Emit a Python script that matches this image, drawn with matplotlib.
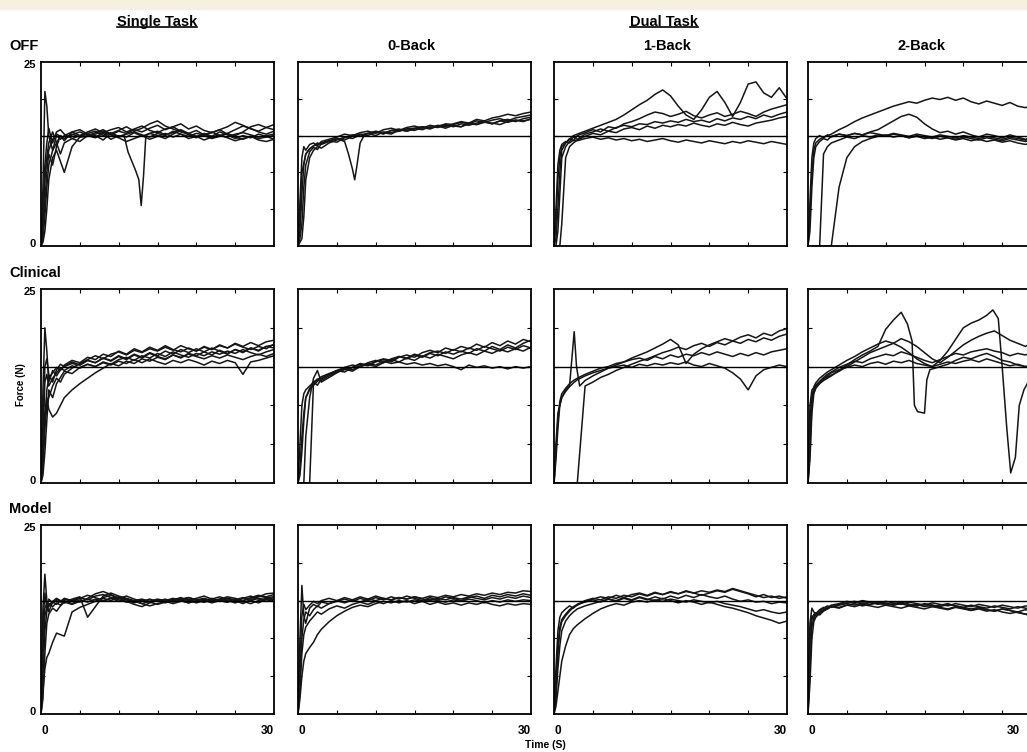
import matplotlib.pyplot as plt
from matplotlib.lines import Line2D
from matplotlib.patches import Rectangle

plt.rcParams['font.family'] = ['Liberation Sans', 'DejaVu Sans']

# shared time base (s)
t = [0, 0.25, 0.5, 0.75, 1, 1.5, 2, 2.5, 3, 4, 5, 6, 7, 8, 9, 10, 11, 12, 13, 14,
     15, 16, 17, 18, 19, 20, 21, 22, 23, 24, 25, 26, 27, 28, 29, 30]

# ---- OFF ----
off_single = [
    [0, 8, 21, 19, 15, 13, 15, 14.5, 15, 15.5, 15, 15.2, 14.8, 15.4, 15.1, 15.6, 15.3, 15.8, 15.5, 16.0, 16.4, 15.8, 16.2, 16.6, 15.9, 16.3, 15.7, 15.4, 15.8, 15.2, 15.0, 15.5, 16.2, 16.5, 16.1, 15.8],
    [0, 3, 9, 12, 14, 15.5, 14, 15, 14.6, 15.2, 14.8, 15.3, 15.6, 15.0, 15.4, 14.9, 15.2, 15.5, 15.1, 14.8, 15.3, 15.0, 15.6, 15.2, 14.9, 15.3, 15.1, 15.5, 15.0, 14.8, 15.2, 15.4, 15.1, 14.8, 15.0, 15.2],
    [0, 1, 4, 8, 11, 13, 14, 12.5, 14, 14.6, 14.2, 15.0, 14.7, 15.3, 14.5, 15.0, 14.8, 15.4, 14.9, 15.3, 15.0, 14.6, 15.2, 15.7, 15.1, 14.7, 15.3, 14.9, 15.5, 15.1, 14.6, 15.0, 14.7, 15.2, 14.9, 14.5],
    [0, 2, 6, 10, 12.5, 11, 13.5, 15, 14.3, 15.5, 15.8, 15.2, 15.0, 14.4, 15.3, 15.7, 16.2, 15.6, 16.0, 16.6, 17.0, 16.3, 15.9, 15.5, 15.2, 14.8, 15.0, 14.6, 14.9, 15.3, 15.8, 16.3, 16.0, 15.5, 15.2, 15.6],
    [0, 0.5, 2, 5, 9, 12, 13, 11.5, 10, 13.5, 14.8, 14.9, 15.2, 15.6, 15.1, 14.7, 14.2, 14.6, 15.0, 14.5, 14.9, 15.3, 14.8, 15.2, 14.6, 14.9, 14.4, 14.8, 15.1, 14.7, 14.3, 14.6, 14.9, 14.4, 14.2, 14.5],
    [0, 4, 11, 14, 16, 14, 15.5, 15.8, 15.2, 14.6, 15.0, 15.5, 15.9, 15.4, 15.8, 16.1, 15.5, 15.9, 16.3, 15.7, 15.4, 15.9, 16.2, 15.6, 15.3, 15.7, 15.1, 15.4, 15.8, 16.2, 16.8, 16.4, 15.9, 15.6, 16.1, 16.5],
]
off_single_dip_t = [0, 0.25, 0.5, 1, 1.5, 2, 3, 4, 5, 6, 7, 8, 9, 10, 10.7, 11.2, 11.7, 12.2, 12.6, 12.9,
                    13.2, 13.5, 14, 15, 16, 17, 18, 19, 20, 21, 22, 23, 24, 25, 26, 27, 28, 29, 30]
off_single_dip = [0, 5, 10, 13, 14.5, 15.2, 14.6, 15.1, 15.5, 15.0, 15.4, 15.8, 15.2, 14.8, 15.0, 12.8, 11.5, 10.2, 9.0, 5.5,
                  9.5, 15.0, 15.3, 15.6, 15.1, 15.4, 15.8, 15.3, 14.9, 15.2, 14.7, 15.0, 15.3, 14.8, 14.5, 14.9, 14.6, 14.8, 15.0]

off_0back = [
    [0, 6, 12, 13.5, 13, 13.8, 14, 13.6, 14.2, 14.5, 14.8, 15.2, 15.0, 15.4, 15.6, 15.3, 15.8, 16.0, 15.7, 16.1, 16.3, 16.0, 16.4, 16.2, 16.6, 16.5, 16.8, 16.6, 17.0, 16.8, 17.1, 17.3, 17.0, 17.4, 17.6, 17.8],
    [0, 2, 7, 11, 12.5, 13.2, 13.6, 14.0, 13.8, 14.2, 14.6, 14.4, 14.9, 15.2, 15.0, 15.5, 15.3, 15.7, 15.6, 15.9, 16.0, 15.8, 16.2, 16.1, 16.4, 16.3, 16.2, 16.6, 16.5, 16.8, 16.7, 16.5, 16.9, 17.1, 17.0, 17.2],
    [0, 1, 3, 8, 11, 12.8, 13.4, 13.1, 13.9, 14.3, 14.1, 14.7, 15.1, 14.9, 15.3, 15.6, 15.4, 15.2, 15.8, 15.6, 15.9, 16.2, 16.0, 16.4, 16.2, 16.6, 16.9, 16.7, 17.2, 17.0, 17.4, 17.6, 17.9, 17.7, 18.0, 18.2],
    [0, 0.5, 1, 4, 9, 12, 13.0, 13.5, 13.3, 14.0, 14.4, 14.8, 14.6, 15.1, 15.3, 15.0, 15.5, 15.4, 15.6, 15.9, 15.7, 16.1, 15.9, 16.3, 16.0, 16.4, 16.2, 16.7, 16.5, 16.9, 16.6, 17.0, 16.8, 17.1, 16.9, 17.3],
]
off_0back_dip_t = [0, 0.25, 0.5, 1, 1.5, 2, 3, 4, 5, 6, 6.5, 7, 7.3, 7.6, 8, 8.5, 9, 10, 11, 12,
                   13, 14, 15, 16, 17, 18, 19, 20, 21, 22, 23, 24, 25, 26, 27, 28, 29, 30]
off_0back_dip = [0, 4, 10, 12.5, 13.2, 13.6, 14.0, 14.3, 14.6, 14.2, 12.5, 10.5, 9.0, 11.0, 14.0, 15.0, 15.3, 15.5, 15.2, 15.7,
                 15.9, 15.6, 16.0, 16.2, 16.0, 16.3, 16.5, 16.2, 16.6, 16.4, 16.7, 16.9, 16.6, 17.0, 17.2, 16.9, 17.3, 17.5]

off_1back = [
    [0, 3, 9, 12, 13.5, 14, 14.5, 15, 15.2, 15.6, 16.0, 16.4, 16.8, 17.2, 17.8, 18.5, 19.2, 19.8, 20.6, 21.2, 20.4, 19.0, 17.8, 17.2, 18.5, 20.2, 21.0, 19.5, 17.6, 19.5, 22.0, 22.3, 20.8, 20.2, 21.5, 20.0],
    [0, 1, 5, 10, 13, 14, 14.6, 14.3, 15.0, 15.4, 15.8, 15.5, 16.2, 16.0, 16.6, 16.9, 17.3, 17.8, 18.2, 18.0, 17.6, 17.9, 18.3, 17.7, 17.4, 17.8, 18.1, 17.6, 17.9, 18.3, 18.0, 17.6, 18.2, 18.6, 18.9, 19.2],
    [0, 0, 2, 7, 12, 13.5, 14.2, 14.8, 14.5, 15.2, 15.5, 15.9, 15.6, 16.1, 16.4, 16.2, 16.6, 16.5, 16.9, 16.7, 17.0, 16.8, 17.2, 16.9, 17.1, 16.8, 17.3, 17.0, 17.4, 17.2, 17.6, 17.3, 17.8, 17.5, 17.9, 18.2],
    [0, 0, 0, 0, 3, 12, 13.5, 14.0, 14.4, 14.9, 15.3, 15.1, 15.6, 15.4, 15.9, 16.1, 15.8, 16.3, 16.0, 16.4, 16.2, 16.5, 16.3, 16.7, 16.4, 16.2, 16.6, 16.4, 16.8, 16.5, 16.3, 16.7, 16.9, 17.1, 17.4, 17.6],
    [0, 5, 11, 13, 13.8, 14.2, 14.0, 14.4, 14.3, 14.6, 14.8, 14.5, 14.7, 14.4, 14.6, 14.3, 14.5, 14.2, 14.4, 14.6, 14.3, 14.1, 14.4, 14.2, 14.0, 14.3, 14.1, 13.9, 14.2, 14.0, 14.3, 14.1, 13.9, 14.2, 14.0, 13.8],
]

off_2back = [
    [0, 4, 10, 13, 14, 14.5, 14.8, 15.0, 15.2, 15.8, 16.3, 16.9, 17.4, 17.8, 18.2, 18.6, 19.0, 19.3, 19.6, 19.4, 19.8, 20.1, 19.9, 20.2, 19.8, 20.1, 19.6, 19.3, 19.7, 19.4, 19.1, 19.5, 19.0, 18.8, 19.2, 18.7],
    [0, 2, 8, 12, 13.5, 14.2, 14.6, 14.4, 14.9, 15.2, 15.0, 15.3, 15.1, 15.5, 15.8, 16.4, 17.0, 17.6, 17.9, 17.5, 16.6, 15.9, 15.4, 15.6, 15.2, 15.5, 15.1, 14.8, 15.2, 15.0, 14.7, 15.1, 14.8, 14.5, 14.9, 14.6],
    [0, 0, 0, 0, 0, 0, 12.5, 13.5, 14.0, 14.4, 14.8, 14.6, 15.0, 14.8, 15.1, 14.9, 15.2, 15.0, 14.7, 15.0, 14.8, 14.6, 14.9, 14.7, 14.5, 14.8, 14.6, 14.4, 14.7, 14.5, 14.3, 14.6, 14.4, 14.2, 14.5, 14.3],
    [0, 0, 0, 0, 0, 0, 0, 0, 0, 8, 12, 13.5, 14.2, 14.6, 14.9, 15.1, 14.8, 15.0, 14.7, 14.9, 14.6, 14.8, 14.5, 14.7, 14.4, 14.6, 14.3, 14.5, 14.2, 14.4, 14.1, 14.3, 14.0, 13.8, 14.1, 13.9],
    [0, 6, 12, 14, 14.6, 15.0, 14.7, 15.1, 14.8, 15.2, 15.0, 15.3, 15.1, 15.4, 15.2, 15.0, 15.3, 15.1, 14.9, 15.2, 15.0, 14.8, 15.1, 14.9, 14.7, 15.0, 14.8, 14.6, 14.9, 14.7, 14.5, 14.8, 14.6, 14.4, 14.2, 14.0],
]

# ---- Clinical ----
clin_single = [
    [0, 12, 20, 17, 13, 14.5, 13.8, 14.6, 15.0, 15.4, 15.2, 15.8, 15.5, 16.1, 15.8, 16.4, 16.0, 16.6, 16.2, 16.8, 16.4, 17.0, 16.6, 17.2, 16.8, 17.3, 16.9, 17.4, 17.0, 16.6, 17.2, 16.8, 17.4, 17.0, 17.6, 17.8],
    [0, 4, 9, 11, 9.5, 8.5, 9, 10, 11, 12, 12.8, 13.5, 14.2, 14.8, 15.4, 15.1, 15.7, 15.4, 16.0, 15.7, 16.2, 15.9, 16.5, 16.1, 16.7, 16.4, 16.9, 16.5, 17.1, 16.7, 17.2, 16.9, 17.4, 17.1, 17.6, 17.4],
    [0, 6, 13, 14, 12.5, 13.5, 14.2, 14.8, 14.5, 15.1, 14.8, 15.3, 15.0, 15.5, 15.2, 15.7, 15.4, 15.9, 15.5, 16.0, 15.6, 15.3, 15.8, 15.5, 15.9, 15.6, 15.2, 15.7, 15.4, 15.8, 15.5, 14.0, 15.6, 15.8, 16.1, 16.4],
    [0, 2, 7, 10, 11, 12.5, 13.5, 13.0, 14.0, 14.8, 15.4, 15.9, 16.4, 16.0, 16.6, 16.9, 16.5, 17.1, 16.8, 17.3, 17.0, 17.5, 17.1, 17.7, 17.3, 17.0, 17.5, 17.2, 17.7, 17.4, 17.9, 17.5, 17.2, 17.6, 17.3, 17.9],
    [0, 1, 4, 8, 12, 11, 12.8, 13.6, 14.4, 14.1, 14.9, 15.3, 15.0, 15.6, 15.3, 15.9, 16.2, 15.8, 16.4, 16.1, 16.7, 16.3, 16.9, 16.5, 16.2, 16.7, 16.4, 16.9, 16.6, 17.0, 16.7, 17.2, 16.8, 16.5, 16.9, 17.2],
    [0, 8, 15, 16, 14, 13, 14.6, 15.3, 15.0, 15.6, 15.2, 15.8, 15.5, 16.1, 15.7, 16.3, 15.9, 16.5, 16.1, 16.7, 16.3, 16.0, 16.5, 16.2, 16.6, 16.3, 16.0, 16.4, 16.1, 16.5, 16.2, 15.9, 16.3, 16.6, 16.3, 16.7],
    [0, 3, 8, 12, 13.5, 14.2, 14.9, 14.5, 15.2, 15.8, 15.5, 16.2, 15.9, 16.6, 16.3, 17.0, 16.6, 17.3, 16.9, 17.5, 17.1, 17.7, 17.2, 16.9, 17.4, 17.0, 17.6, 17.2, 17.8, 17.4, 18.0, 17.6, 18.1, 17.7, 18.2, 18.4],
]

clin_0back = [
    [0, 5, 10, 11.5, 12, 12.5, 13.0, 13.4, 13.2, 13.8, 14.3, 14.6, 14.9, 15.3, 15.1, 15.6, 15.9, 15.6, 16.2, 16.5, 16.2, 16.8, 17.1, 16.8, 17.4, 17.1, 17.6, 17.3, 17.9, 17.5, 18.1, 17.7, 18.3, 17.9, 18.5, 18.2],
    [0, 2, 6, 9, 11, 12.2, 12.8, 13.3, 13.7, 14.1, 14.5, 14.9, 15.2, 15.0, 15.5, 15.8, 15.5, 16.0, 16.3, 16.0, 16.5, 16.2, 16.7, 16.4, 16.9, 16.6, 17.0, 16.7, 17.3, 17.0, 17.6, 17.2, 17.8, 17.4, 18.0, 18.4],
    [0, 1, 4, 8, 11, 12.0, 12.6, 13.1, 13.5, 14.0, 14.4, 14.8, 14.6, 15.1, 15.4, 15.2, 15.7, 15.4, 15.6, 15.3, 15.5, 15.2, 15.4, 15.1, 15.3, 15.0, 14.6, 15.2, 14.9, 15.1, 14.8, 15.0, 14.7, 15.0, 14.8, 15.0],
    [0, 0, 0, 0, 0, 0, 13.0, 12.6, 13.4, 14.0, 14.5, 14.3, 14.9, 15.4, 15.2, 15.7, 16.0, 15.8, 16.3, 16.1, 16.6, 16.3, 16.8, 17.0, 16.7, 17.2, 16.9, 17.4, 17.1, 17.6, 17.3, 17.0, 17.5, 17.2, 17.7, 17.4],
    [0, 0, 0, 0, 6, 11, 13.5, 14.5, 13.0, 13.6, 14.2, 14.7, 14.4, 15.0, 15.3, 15.0, 15.5, 15.9, 15.6, 16.1, 15.8, 16.4, 16.1, 16.6, 16.3, 16.0, 16.5, 16.8, 16.5, 17.0, 16.7, 17.2, 16.9, 17.3, 17.0, 17.5],
]

clin_1back_spike_t = [0, 0.25, 0.5, 1, 1.5, 2, 2.3, 2.6, 2.9, 3.3, 4, 5, 6, 7, 8, 9, 10, 11, 12, 13,
                      14, 15, 16, 17, 18, 19, 20, 21, 22, 23, 24, 25, 26, 27, 28, 29, 30]
clin_1back_spike = [0, 5, 9, 11, 12, 12.5, 16, 19.5, 15, 12.5, 13.2, 13.8, 14.3, 14.8, 15.2, 15.6, 16.1, 16.5, 16.9, 17.4,
                    17.9, 18.5, 17.8, 15.4, 16.6, 17.3, 17.8, 18.2, 18.6, 18.3, 18.8, 19.1, 18.7, 19.3, 19.0, 19.6, 19.9]
clin_1back = [
    [0, 0, 0, 0, 0, 0, 0, 0, 0, 12.5, 13.0, 13.6, 14.0, 14.5, 14.9, 15.3, 15.7, 16.0, 16.4, 16.8, 17.1, 17.5, 17.2, 17.7, 18.0, 17.6, 18.1, 17.8, 18.3, 18.0, 18.5, 18.2, 18.7, 18.4, 18.9, 19.2],
    [0, 4, 8, 10.5, 11.5, 12.2, 12.8, 13.2, 13.5, 14.0, 14.4, 14.8, 15.0, 15.4, 15.6, 15.9, 16.1, 15.8, 16.3, 16.0, 16.5, 16.2, 16.6, 16.4, 16.8, 16.5, 16.9, 16.6, 16.3, 16.7, 16.4, 16.8, 16.5, 16.9, 17.1, 17.3],
    [0, 3, 7, 10, 11, 11.8, 12.4, 12.9, 13.3, 13.8, 14.2, 14.5, 14.8, 15.0, 15.2, 14.9, 15.3, 15.1, 15.4, 15.2, 15.5, 15.3, 15.6, 15.2, 15.0, 15.4, 15.1, 14.8, 14.2, 13.4, 12.0, 13.8, 14.6, 14.9, 15.2, 15.0],
]

clin_2back_dip1_t = [0, 0.25, 0.5, 1, 1.5, 2, 3, 4, 5, 6, 7, 8, 9, 10, 11, 12, 12.8, 13.4, 13.7, 14.1,
                     15.0, 15.3, 15.7, 17, 18, 19, 20, 21, 22, 23, 24, 25, 26, 27, 28, 29, 30]
clin_2back_dip1 = [0, 8, 11, 12.2, 12.8, 13.2, 13.8, 14.5, 15.2, 15.9, 16.5, 17.0, 17.6, 19.8, 21.0, 22.0, 20.5, 18.3, 10.0, 9.2,
                   9.0, 13.3, 14.6, 15.0, 15.3, 15.8, 16.2, 16.0, 16.4, 16.7, 16.3, 15.8, 15.6, 15.2, 15.0, 15.1, 15.0]
clin_2back_dip2_t = [0, 0.25, 0.5, 1, 1.5, 2, 3, 4, 5, 6, 7, 8, 9, 10, 11, 12, 13, 14, 15, 16,
                     17, 18, 19, 20, 21, 22, 23, 23.8, 24.5, 25, 25.6, 26.1, 26.7, 27.2, 27.8, 28.5, 29.2, 30]
clin_2back_dip2 = [0, 10, 12, 12.5, 13.0, 13.4, 13.9, 14.4, 15.0, 15.6, 16.2, 16.8, 17.2, 17.6, 18.0, 17.5, 16.8, 16.0, 15.4, 15.0,
                   15.8, 17.0, 18.5, 20.0, 20.6, 21.0, 21.6, 22.3, 21.2, 15.0, 7.0, 1.3, 3.3, 10.0, 12.0, 13.3, 14.5, 16.0]
clin_2back = [
    [0, 6, 11, 12.4, 12.9, 13.5, 13.9, 14.3, 14.6, 15.2, 15.8, 16.3, 16.9, 17.4, 17.9, 18.3, 18.0, 18.6, 18.2, 17.6, 16.8, 16.0, 15.5, 16.2, 17.0, 17.8, 18.4, 18.9, 19.3, 19.6, 19.0, 18.4, 18.0, 17.6, 18.2, 18.5],
    [0, 4, 10, 12.0, 12.6, 13.1, 13.6, 14.0, 14.3, 14.9, 15.3, 15.7, 15.5, 16.0, 16.3, 16.6, 16.4, 16.9, 16.6, 16.2, 15.8, 15.5, 15.9, 16.3, 16.7, 16.5, 16.9, 17.1, 17.3, 17.0, 16.8, 16.4, 16.7, 16.5, 16.9, 17.2],
    [0, 3, 9, 11.5, 12.3, 12.9, 13.4, 13.8, 14.2, 14.6, 14.9, 15.2, 15.0, 15.4, 15.6, 15.3, 15.7, 15.5, 15.8, 15.4, 15.2, 15.0, 15.3, 15.6, 15.4, 15.7, 15.9, 15.6, 16.0, 15.7, 15.4, 15.1, 15.3, 15.0, 15.2, 15.4],
]

# ---- Model ----
model_single = [
    [0, 14, 18.5, 15, 13.5, 14.8, 15.2, 14.9, 15.3, 15.0, 15.4, 15.1, 15.6, 15.8, 15.4, 15.1, 14.8, 15.0, 15.2, 14.9, 15.1, 14.8, 15.0, 15.2, 15.4, 15.1, 15.3, 15.0, 15.2, 15.5, 15.3, 15.0, 15.4, 15.7, 15.5, 15.8],
    [0, 3, 6, 7.5, 8, 9.5, 10.7, 10.5, 10.3, 13.5, 14.1, 14.5, 14.9, 15.3, 15.0, 15.4, 15.1, 14.7, 15.0, 14.8, 15.1, 14.9, 15.2, 15.0, 14.7, 15.0, 14.8, 15.1, 14.9, 15.3, 15.1, 14.8, 15.0, 15.3, 15.1, 15.4],
    [0, 8, 13, 14, 14.5, 14.8, 14.5, 15.0, 14.7, 15.2, 15.5, 12.8, 14.2, 15.6, 16.0, 15.6, 15.3, 15.0, 14.6, 14.3, 14.6, 14.9, 14.6, 14.9, 15.2, 14.8, 15.0, 14.7, 15.0, 14.8, 15.1, 15.4, 15.0, 14.7, 15.2, 15.0],
    [0, 10, 14, 14.6, 14.2, 14.9, 15.3, 15.0, 14.7, 15.1, 14.8, 15.3, 15.9, 16.2, 15.8, 15.3, 14.9, 14.5, 14.2, 14.7, 15.0, 14.7, 15.1, 15.4, 15.0, 15.3, 15.6, 15.2, 14.9, 15.3, 15.0, 14.6, 15.1, 15.5, 15.9, 16.0],
    [0, 5, 11, 13.5, 14.6, 14.2, 14.7, 14.4, 15.0, 14.6, 15.1, 14.8, 15.2, 14.9, 15.3, 15.5, 15.2, 14.9, 15.1, 14.8, 14.5, 14.8, 15.0, 15.3, 15.0, 14.7, 15.0, 15.3, 15.0, 14.8, 15.2, 14.9, 14.6, 15.0, 15.3, 15.1],
    [0, 2, 8, 12, 13.2, 14.0, 13.6, 14.3, 14.8, 14.5, 14.9, 15.2, 14.9, 15.4, 15.7, 15.3, 15.6, 15.2, 14.9, 15.2, 14.9, 15.2, 14.8, 15.1, 15.4, 15.1, 14.8, 15.2, 15.5, 15.2, 14.9, 15.3, 15.6, 15.2, 14.9, 15.2],
    [0, 12, 16, 14, 15.2, 14.7, 15.0, 14.8, 15.2, 14.9, 15.3, 15.7, 15.4, 15.0, 15.3, 14.9, 15.2, 14.9, 14.6, 14.9, 15.2, 15.0, 15.3, 15.0, 14.7, 15.0, 15.2, 14.9, 15.2, 15.0, 14.7, 15.0, 15.3, 15.6, 15.4, 15.5],
]

model_0back = [
    [0, 10, 17, 13, 12, 14.0, 14.5, 14.2, 14.8, 14.6, 15.0, 14.7, 15.1, 14.8, 15.2, 15.0, 15.3, 15.1, 15.4, 15.2, 15.5, 15.3, 15.6, 15.4, 15.7, 15.5, 15.8, 15.6, 15.9, 15.7, 16.0, 15.8, 16.1, 16.0, 16.3, 16.2],
    [0, 2, 5, 7, 8, 8.8, 9.5, 10.5, 11.2, 12.2, 13.0, 13.6, 14.1, 14.4, 14.2, 14.6, 14.9, 14.7, 15.0, 14.8, 15.1, 14.9, 15.2, 15.0, 14.8, 15.1, 14.9, 15.2, 15.0, 14.7, 15.0, 14.8, 15.1, 14.9, 15.1, 15.0],
    [0, 5, 10, 12.5, 13.5, 13.0, 13.8, 14.3, 14.0, 14.6, 14.9, 15.2, 14.9, 15.3, 15.0, 15.4, 15.1, 15.5, 15.2, 15.6, 15.3, 15.0, 15.4, 15.1, 15.5, 15.3, 15.0, 15.4, 15.6, 15.3, 15.7, 15.5, 15.8, 15.6, 15.9, 15.7],
    [0, 3, 8, 10.5, 11.5, 12.3, 12.9, 13.5, 13.2, 13.9, 14.3, 14.0, 14.5, 14.8, 14.5, 14.9, 14.6, 15.0, 14.7, 15.0, 14.6, 14.9, 14.5, 14.8, 14.5, 14.7, 14.4, 14.7, 14.5, 14.8, 14.5, 14.3, 14.6, 14.4, 14.6, 14.5],
    [0, 7, 13, 14.5, 13.8, 14.4, 14.9, 14.6, 15.0, 15.3, 15.0, 15.4, 15.1, 15.5, 15.2, 15.6, 15.3, 15.1, 15.4, 15.2, 15.5, 15.2, 15.0, 15.3, 15.1, 15.4, 15.2, 15.5, 15.3, 15.1, 15.4, 15.2, 15.5, 15.3, 15.6, 15.4],
]

model_1back = [
    [0, 4, 9, 11.5, 12.5, 13.2, 13.8, 14.2, 14.5, 15.0, 15.3, 15.1, 15.5, 15.3, 15.7, 15.5, 15.9, 15.6, 16.0, 15.8, 16.1, 15.9, 16.2, 16.0, 16.3, 16.1, 16.4, 16.2, 16.6, 16.3, 16.0, 15.7, 15.4, 15.6, 15.3, 15.5],
    [0, 2, 6, 9, 11, 12.3, 13.0, 13.5, 13.9, 14.3, 14.6, 14.9, 15.2, 14.9, 15.3, 15.0, 15.4, 15.1, 15.5, 15.2, 15.6, 15.3, 15.7, 15.4, 15.8, 15.5, 15.3, 15.6, 15.2, 14.9, 15.1, 14.8, 14.9, 14.6, 14.8, 14.7],
    [0, 1, 3, 5, 7, 9, 10.5, 11.3, 11.8, 12.6, 13.3, 13.9, 14.3, 14.6, 14.4, 14.8, 15.0, 14.8, 15.1, 14.9, 15.2, 15.0, 14.8, 15.1, 14.9, 14.7, 14.9, 14.6, 14.4, 14.2, 13.9, 13.6, 13.8, 13.5, 13.3, 13.5],
    [0, 6, 11, 12.8, 13.4, 13.9, 14.3, 14.0, 14.5, 14.8, 15.1, 14.8, 15.2, 15.0, 15.4, 15.1, 15.5, 15.2, 15.0, 15.3, 15.0, 14.7, 15.0, 14.8, 14.5, 14.8, 14.5, 14.2, 14.0, 13.7, 13.4, 13.0, 12.7, 12.4, 12.0, 12.3],
    [0, 3, 8, 11, 12.2, 13.0, 13.6, 14.1, 14.4, 14.9, 15.2, 15.5, 15.3, 15.7, 15.4, 15.8, 16.0, 15.7, 16.1, 15.8, 16.2, 15.9, 16.3, 16.0, 15.7, 16.0, 16.3, 16.1, 16.5, 16.2, 15.9, 15.5, 15.8, 15.4, 15.6, 15.3],
]

model_2back = [
    [0, 9, 12.5, 13.2, 13.0, 13.5, 13.8, 14.0, 14.2, 14.4, 14.6, 14.4, 14.7, 14.5, 14.8, 14.6, 14.4, 14.7, 14.5, 14.3, 14.6, 14.4, 14.2, 14.5, 14.3, 14.1, 14.4, 14.2, 14.0, 14.3, 14.1, 13.9, 14.2, 14.0, 13.8, 14.0],
    [0, 11, 13.0, 12.5, 13.3, 13.7, 14.0, 14.3, 14.1, 14.5, 14.7, 14.9, 14.6, 14.8, 14.5, 14.7, 14.4, 14.6, 14.3, 14.5, 14.2, 14.4, 14.1, 13.9, 14.2, 14.0, 13.7, 13.9, 13.6, 13.8, 13.5, 13.3, 13.5, 13.2, 13.4, 13.1],
    [0, 6, 11.5, 12.8, 13.4, 13.1, 13.6, 13.9, 14.2, 14.0, 14.4, 14.6, 14.3, 14.5, 14.7, 14.4, 14.6, 14.8, 14.5, 14.3, 14.5, 14.2, 14.4, 14.6, 14.3, 14.1, 13.9, 14.1, 13.8, 13.6, 13.9, 13.7, 13.4, 13.2, 12.8, 12.5],
    [0, 4, 10, 12.2, 12.8, 13.3, 13.7, 14.1, 14.4, 14.6, 14.9, 14.7, 15.0, 14.8, 14.6, 14.9, 14.7, 14.5, 14.8, 14.6, 14.4, 14.7, 14.5, 14.3, 14.6, 14.4, 14.2, 14.5, 14.3, 14.1, 14.4, 14.2, 14.0, 14.3, 14.1, 13.9],
    [0, 12, 14, 13.5, 13.2, 13.8, 14.1, 13.9, 14.3, 14.1, 14.4, 14.2, 14.5, 14.3, 14.1, 14.4, 14.2, 14.0, 14.3, 14.1, 13.9, 14.2, 14.0, 13.8, 14.1, 13.9, 13.7, 14.0, 13.8, 13.6, 13.9, 13.7, 13.5, 13.8, 13.6, 13.4],
]

target = 15
row_names = ['OFF', 'Clinical', 'Model']
col_names = ['', '0-Back', '1-Back', '2-Back']

panels = {
    (0, 0): [(t, y) for y in off_single] + [(off_single_dip_t, off_single_dip)],
    (0, 1): [(t, y) for y in off_0back] + [(off_0back_dip_t, off_0back_dip)],
    (0, 2): [(t, y) for y in off_1back],
    (0, 3): [(t, y) for y in off_2back],
    (1, 0): [(t, y) for y in clin_single],
    (1, 1): [(t, y) for y in clin_0back],
    (1, 2): [(clin_1back_spike_t, clin_1back_spike)] + [(t, y) for y in clin_1back],
    (1, 3): [(clin_2back_dip1_t, clin_2back_dip1), (clin_2back_dip2_t, clin_2back_dip2)] + [(t, y) for y in clin_2back],
    (2, 0): [(t, y) for y in model_single],
    (2, 1): [(t, y) for y in model_0back],
    (2, 2): [(t, y) for y in model_1back],
    (2, 3): [(t, y) for y in model_2back],
}

W, H = 1027, 752
fig = plt.figure(figsize=(W / 100, H / 100), dpi=100)
fig.patches.append(Rectangle((0, 1 - 9 / H), 1, 9 / H, transform=fig.transFigure,
                             color='#f5f0e1', zorder=0))

col_left = [41, 298, 554, 808]
col_w = 233
rows = [(62, 246), (289, 483), (525, 714)]


def ftext(x, y, s, **kw):
    kw.setdefault('weight', 'bold')
    return fig.text(x / W, 1 - y / H, s, **kw)


for (r, c), traces in panels.items():
    top, bot = rows[r]
    ax = fig.add_axes([col_left[c] / W, 1 - bot / H, col_w / W, (bot - top) / H])
    for tx, ty in traces:
        ax.plot(tx, ty, color='#151515', lw=1.1)
    ax.axhline(target, color='black', lw=1.0)
    ax.set_xlim(0, 30)
    ax.set_ylim(0, 25)
    ax.set_xticks([5, 10, 15, 20, 25])
    ax.set_yticks([5, 10, 15, 20])
    ax.tick_params(direction='in', length=3, width=0.8, top=True, right=True,
                   labelbottom=False, labelleft=False)
    for s in ax.spines.values():
        s.set_linewidth(1.3)

# headers
st = ftext(157, 22, 'Single Task', ha='center', va='center', fontsize=10.5)
dt = ftext(664, 22, 'Dual Task', ha='center', va='center', fontsize=10.5)
for c in range(1, 4):
    ftext(col_left[c] + col_w / 2 - 3, 46, col_names[c], ha='center', va='center', fontsize=10.5)
for r in range(3):
    top, bot = rows[r]
    ftext(9, top - 16, row_names[r], ha='left', va='center', fontsize=10.5)
    ftext(36, top + 3, '25', ha='right', va='center', fontsize=8)
    ftext(36, bot - 2, '0', ha='right', va='center', fontsize=8)
for c in range(4):
    ftext(col_left[c] + 4, 731, '0', ha='center', va='center', fontsize=8.5)
    x30 = min(col_left[c] + col_w - 7, 1013)
    ftext(x30, 731, '30', ha='center', va='center', fontsize=8.5)
ftext(545, 745, 'Time (S)', ha='center', va='center', fontsize=7.5)
ftext(21, 385, 'Force (N)', ha='center', va='center', fontsize=7, rotation=90)

# underline the group titles
fig.canvas.draw()
rend = fig.canvas.get_renderer()
for txt in (st, dt):
    bb = txt.get_window_extent(rend).transformed(fig.transFigure.inverted())
    y = bb.y0 + 2.5 / H
    fig.add_artist(Line2D([bb.x0, bb.x1], [y, y], color='black', lw=1.2,
                          transform=fig.transFigure))

fig.savefig('out.png', dpi=100)
